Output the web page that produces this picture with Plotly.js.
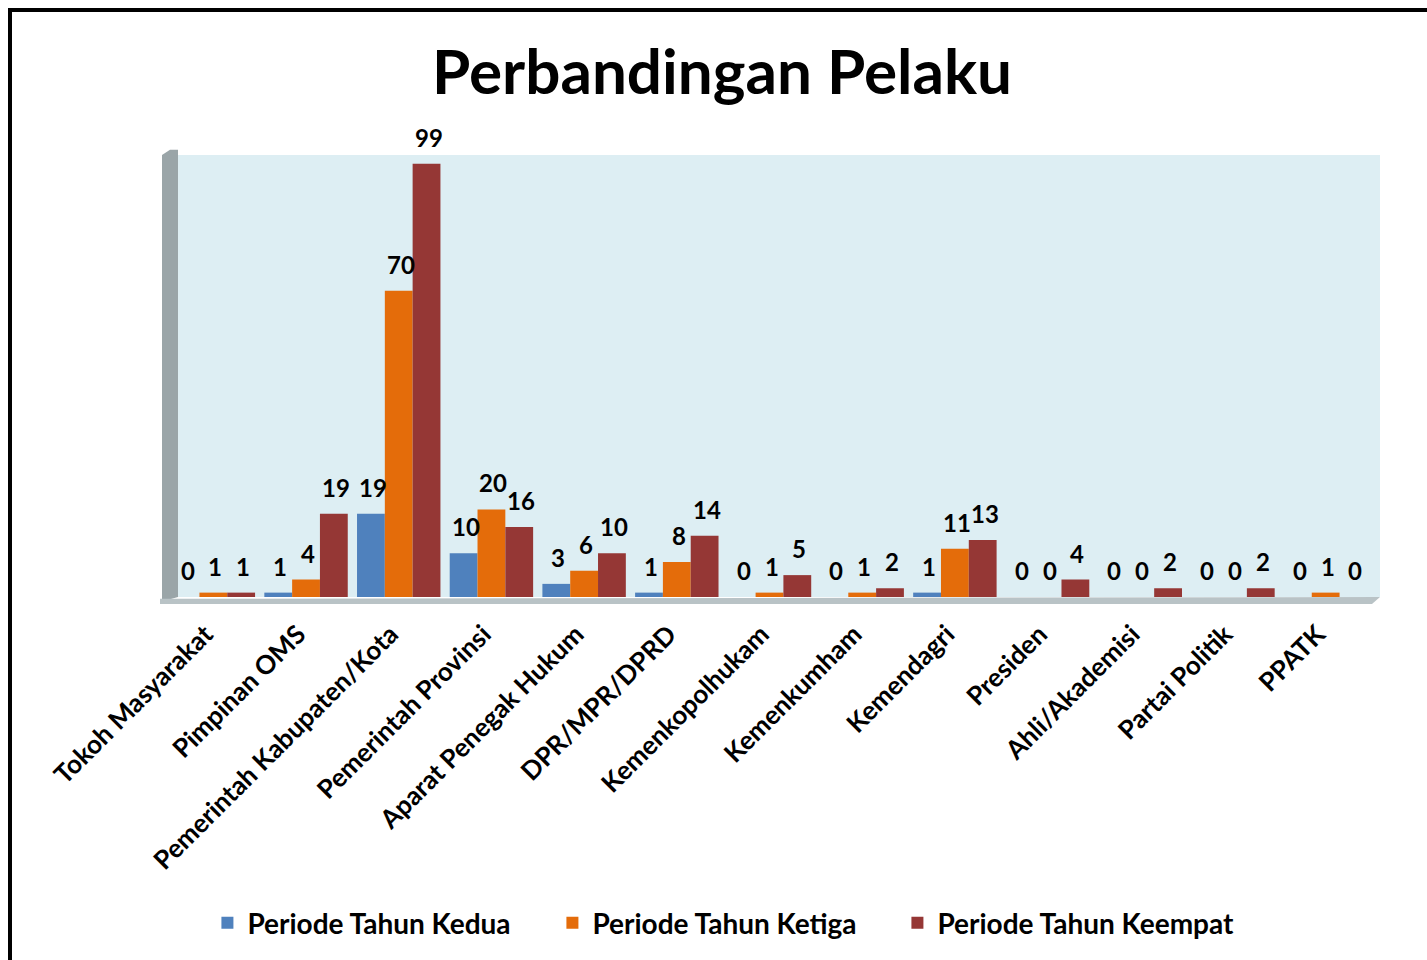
<!DOCTYPE html>
<html>
<head>
<meta charset="utf-8">
<script src="https://cdn.plot.ly/plotly-3.0.1.min.js"></script>
<style>
  html, body { margin: 0; padding: 0; overflow: hidden; background: #fff; }
  #frame { position: absolute; left: 8px; top: 8px; width: 1460px; height: 1000px; border: 4px solid #000; pointer-events: none; }
  #chart { position: absolute; left: 0; top: 0; width: 1427px; height: 960px; }
</style>
</head>
<body>
<div id="chart"></div>
<div id="frame"></div>
<script>
const categories = ["Tokoh Masyarakat", "Pimpinan OMS", "Pemerintah Kabupaten/Kota", "Pemerintah Provinsi",
  "Aparat Penegak Hukum", "DPR/MPR/DPRD", "Kemenkopolhukam", "Kemenkumham", "Kemendagri",
  "Presiden", "Ahli/Akademisi", "Partai Politik", "PPATK"];
const seriesNames = ["Periode Tahun Kedua", "Periode Tahun Ketiga", "Periode Tahun Keempat"];
const kedua   = [0, 1, 19, 10, 3, 1, 0, 0, 1, 0, 0, 0, 0];
const ketiga  = [1, 4, 70, 20, 6, 8, 1, 1, 11, 0, 0, 0, 1];
const keempat = [1, 19, 99, 16, 10, 14, 5, 2, 13, 4, 2, 2, 0];
const colors = ["#4F81BD", "#E46C0A", "#953735"];

const fontFam = "Lato, 'Open Sans', sans-serif";
const values = [kedua, ketiga, keempat];
const bargap = 0.1;
const barW = (1 - bargap) / 3;

const traces = values.map((v, i) => ({
  type: "bar",
  name: seriesNames[i],
  x: categories,
  y: v,
  marker: { color: colors[i], line: { width: 0 } },
  hoverinfo: "x+y+name"
}));

const annotations = [];
values.forEach((v, k) => {
  v.forEach((val, i) => {
    annotations.push({
      x: i + (k - 1) * barW, y: val, xref: "x", yref: "y",
      text: String(val), showarrow: false,
      yanchor: "bottom", xanchor: "center", yshift: 10, xshift: 2,
      font: { family: fontFam, size: 24, color: "#000", weight: 700 }
    });
  });
});

const W = 1427, L = 167, R = 1372;
const pw = R - L;
const px = (p) => (p - L) / pw;
const layout = {
  width: 1427, height: 960,
  margin: { l: L, r: W - R, t: 155, b: 363 },
  paper_bgcolor: "#ffffff",
  plot_bgcolor: "rgba(0,0,0,0)",
  barmode: "group",
  bargap: bargap,
  bargroupgap: 0,
  showlegend: true,
  title: {
    text: "<b>Perbandingan Pelaku</b>",
    font: { family: fontFam, size: 62, color: "#000" },
    x: 0.506, xanchor: "center", xref: "container",
    y: 1 - 72 / 960, yanchor: "middle", yref: "container"
  },
  xaxis: {
    tickangle: -45,
    tickfont: { family: fontFam, size: 26, color: "#000", weight: 700 },
    showgrid: false, zeroline: false, showline: false, ticks: "",
    ticklabelstandoff: 16,
    ticklabelshift: -8
  },
  yaxis: {
    range: [0, 101], visible: false, showgrid: false, zeroline: false
  },
  legend: {
    orientation: "h",
    x: 0.508, xanchor: "center", xref: "container",
    y: 1 - 923 / 960, yanchor: "middle", yref: "container",
    font: { family: fontFam, size: 28, color: "#000", weight: 700 },
    entrywidth: 300, entrywidthmode: "pixels",
    itemwidth: 30,
    traceorder: "normal"
  },
  annotations: annotations,
  shapes: [
    { type: "rect", xref: "paper", yref: "paper",
      x0: px(177), x1: px(1380), y0: 0, y1: 1,
      fillcolor: "#DDEEF3", line: { width: 0 }, layer: "below" },
    { type: "path", xref: "paper", yref: "paper",
      path: `M ${px(162)} -0.01 L ${px(162)} 1.0 L ${px(170)} 1.012 L ${px(178)} 1.012 L ${px(178)} 0 Z`,
      fillcolor: "#9AA5A8", line: { width: 0 }, layer: "below" },
    { type: "path", xref: "paper", yref: "paper",
      path: `M ${px(160)} -0.004 L ${px(160)} -0.016 L ${px(1372)} -0.016 L ${px(1380)} 0 Z`,
      fillcolor: "#B9C3C6", line: { width: 0 }, layer: "below" }
  ]
};

Plotly.newPlot("chart", traces, layout, { displayModeBar: false, staticPlot: true });
</script>
</body>
</html>
